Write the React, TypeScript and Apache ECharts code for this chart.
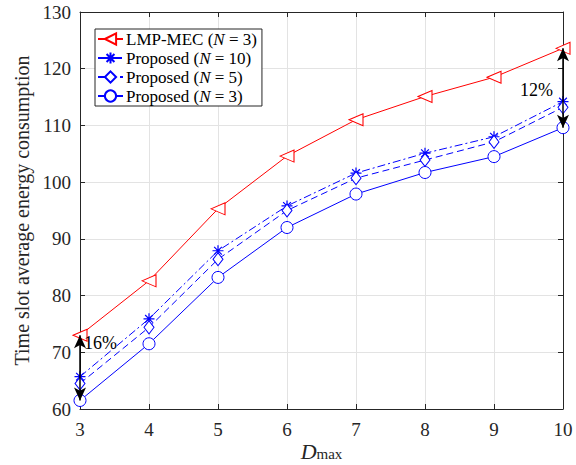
import React, { useEffect, useRef } from "react";
import * as echarts from "echarts";

const dMax = [3, 4, 5, 6, 7, 8, 9, 10];
const lmpMec = [73.0, 82.6, 95.3, 104.6, 111.0, 115.1, 118.5, 123.6];
const propN10 = [65.7, 75.9, 87.9, 95.8, 101.6, 105.1, 108.0, 114.2];
const propN5 = [64.5, 74.4, 86.4, 95.0, 100.7, 103.9, 107.1, 113.2];
const propN3 = [61.5, 71.5, 83.2, 92.0, 97.9, 101.7, 104.5, 109.6];
const seriesNames = [
  "LMP-MEC (N = 3)",
  "Proposed (N = 10)",
  "Proposed (N = 5)",
  "Proposed (N = 3)",
];
const gapLabels = ["16%", "12%"];
const gapLabelY = [71.6, 116.3];

const FONT = "Liberation Serif";
const AXIS = "#262626";
const STAR = "path://M10,0 L10,20 M0,10 L20,10 M3,3 L17,17 M3,17 L17,3";

export default function App() {
  const ref = useRef<HTMLDivElement>(null);
  useEffect(() => {
    const chart = echarts.init(ref.current!, null, { renderer: "svg" });
    const pts = (ys: number[]) => dMax.map((x, i) => [x, ys[i]]);
    const axisCommon = {
      axisLine: { show: true, lineStyle: { color: AXIS, width: 1 } },
      axisTick: { show: true, inside: true, length: 5, lineStyle: { color: AXIS } },
    };
    chart.setOption({
      animation: false,
      textStyle: { fontFamily: FONT },
      grid: { left: 80, right: 13, top: 12, bottom: 56, containLabel: false, outerBoundsMode: "none" },
      legend: {
        orient: "vertical",
        left: 95,
        top: 29,
        backgroundColor: "#fff",
        borderColor: "#262626",
        borderWidth: 1,
        borderRadius: 0,
        padding: [1, 5, 1, 2],
        itemGap: 1,
        itemWidth: 25,
        itemHeight: 14,
        data: seriesNames,
        formatter: (n: string) => n.replace("N", "{i|N}"),
        textStyle: {
          fontFamily: FONT,
          fontSize: 17,
          lineHeight: 18,
          color: "#000",
          padding: [0, 0, 0, -2],
          rich: { i: { fontFamily: FONT, fontSize: 17, lineHeight: 18, fontStyle: "italic", color: "#000" } },
        },
      },
      xAxis: [
        {
          type: "value",
          min: 3,
          max: 10,
          interval: 1,
          ...axisCommon,
          axisLabel: { fontFamily: FONT, fontSize: 19, color: AXIS, margin: 11 },
          splitLine: { show: true, lineStyle: { color: "#e3e3e3" } },
          name: "{i|D}{s|max}",
          nameLocation: "middle",
          nameMoveOverlap: false,
          nameGap: 31,
          nameTextStyle: {
            rich: {
              i: { fontFamily: FONT, fontSize: 22, lineHeight: 22, fontStyle: "italic", color: AXIS },
              s: { fontFamily: FONT, fontSize: 15, lineHeight: 14, color: AXIS, padding: [6, 0, 0, 0] },
            },
          },
        },
        {
          type: "value",
          position: "top",
          min: 3,
          max: 10,
          interval: 1,
          ...axisCommon,
          axisLabel: { show: false },
          splitLine: { show: false },
        },
      ],
      yAxis: [
        {
          type: "value",
          min: 60,
          max: 130,
          interval: 10,
          ...axisCommon,
          axisLabel: { fontFamily: FONT, fontSize: 19, color: AXIS, margin: 9 },
          splitLine: { show: true, lineStyle: { color: "#e3e3e3" } },
          name: "Time slot average energy consumption",
          nameLocation: "middle",
          nameMoveOverlap: false,
          nameGap: 48,
          nameTextStyle: { fontFamily: FONT, fontSize: 20, color: AXIS },
        },
        {
          type: "value",
          position: "right",
          min: 60,
          max: 130,
          interval: 10,
          ...axisCommon,
          axisLabel: { show: false },
          splitLine: { show: false },
        },
      ],
      series: [
        {
          name: seriesNames[0],
          type: "line",
          data: pts(lmpMec),
          symbol: "triangle",
          symbolRotate: 90,
          symbolSize: [12, 14],
          showAllSymbol: true,
          lineStyle: { color: "#ff0000", width: 1 },
          itemStyle: { color: "#fff", borderColor: "#ff0000", borderWidth: 1 },
          z: 3,
          markLine: {
            silent: true,
            symbol: ["arrow", "arrow"],
            symbolSize: [9, 13],
            lineStyle: { color: "#000", width: 1.5, type: "solid" },
            label: { show: false },
            data: [
              [{ coord: [dMax[0], lmpMec[0]] }, { coord: [dMax[0], propN3[0]] }],
              [
                { coord: [dMax[7], lmpMec[7]] },
                { coord: [dMax[7], propN3[7]] },
              ],
            ],
          },
          markPoint: {
            silent: true,
            symbol: "circle",
            symbolSize: 0,
            data: [
              {
                coord: [dMax[0], gapLabelY[0]],
                label: { show: true, formatter: gapLabels[0], position: "right", distance: 4, fontFamily: FONT, fontSize: 18, color: "#000" },
              },
              {
                coord: [dMax[7], gapLabelY[1]],
                label: { show: true, formatter: gapLabels[1], position: "left", distance: 10, fontFamily: FONT, fontSize: 18, color: "#000" },
              },
            ],
          },
        },
        {
          name: seriesNames[1],
          type: "line",
          data: pts(propN10),
          symbol: STAR,
          symbolSize: 11,
          lineStyle: { color: "#0000ff", width: 1, type: [8, 3, 2, 3] },
          itemStyle: { color: "none", borderColor: "#0000ff", borderWidth: 1.2 },
        },
        {
          name: seriesNames[2],
          type: "line",
          data: pts(propN5),
          symbol: "diamond",
          symbolSize: [10, 13],
          lineStyle: { color: "#0000ff", width: 1, type: [7, 4] },
          itemStyle: { color: "#fff", borderColor: "#0000ff", borderWidth: 1 },
        },
        {
          name: seriesNames[3],
          type: "line",
          data: pts(propN3),
          symbol: "circle",
          symbolSize: 12,
          lineStyle: { color: "#0000ff", width: 1 },
          itemStyle: { color: "#fff", borderColor: "#0000ff", borderWidth: 1 },
        },
      ],
    });
    return () => chart.dispose();
  }, []);
  return (
    <div
      ref={ref}
      style={{ position: "fixed", left: 0, top: 0, width: 576, height: 465, background: "#fff" }}
    />
  );
}
